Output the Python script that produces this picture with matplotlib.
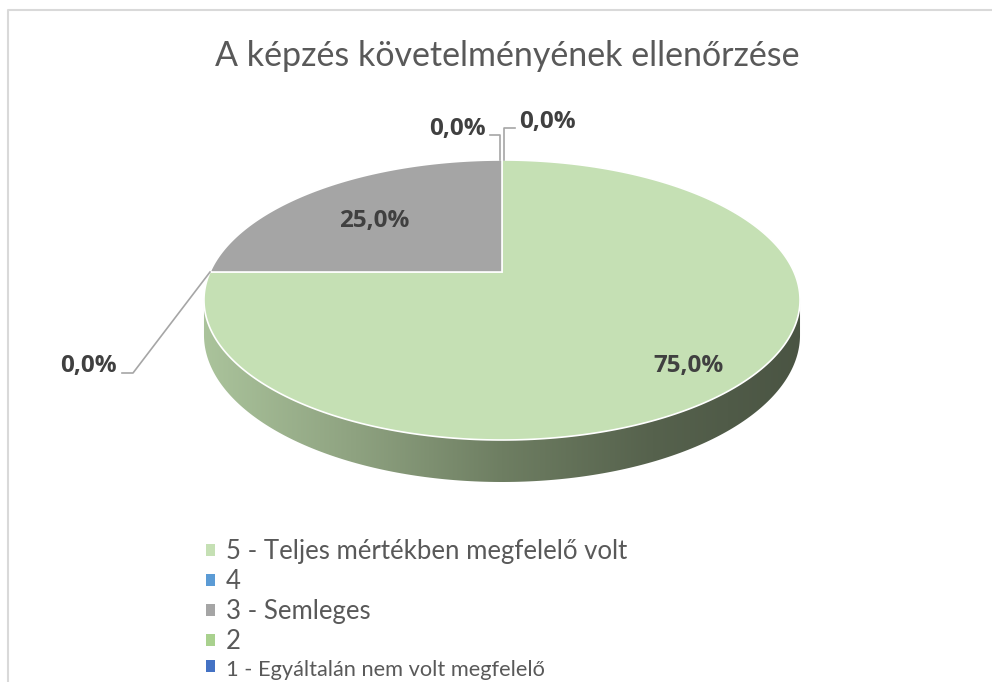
import numpy as np
import matplotlib.pyplot as plt
from matplotlib.patches import Polygon, Patch
from matplotlib.colors import LinearSegmentedColormap

plt.rcParams['font.family'] = ['Lato', 'DejaVu Sans']

title = "A képzés követelményének ellenőrzése"
categories = ["5 - Teljes mértékben megfelelő volt", "4", "3 - Semleges", "2",
              "1 - Egyáltalán nem volt megfelelő"]
shares = [75.0, 0.0, 25.0, 0.0, 0.0]
colors = ["#C5E0B4", "#5B9BD5", "#A5A5A5", "#A9D18E", "#4472C4"]

# tilted disc, in pixel space
cx, cy = 502, 272
rx, ry = 292, 134.4
persp = 0.2
depth = 33.6

# where the labels of the empty slices go (text x, baseline y, elbow x, end x)
zero_label_pos = {1: (117, 372, 133, 122, "right"),
                  3: (486, 135, 500, 490, "right"),
                  4: (519, 128, 504, 515, "left")}
label_font = dict(family=['Open Sans', 'DejaVu Sans'], fontsize=17.5,
                  fontweight="bold", color="#404040")


def proj(theta, z=0.0, r=1.0):
    u = r * np.cos(theta)
    v = -r * np.sin(theta)
    s = 1 / (1 - persp * v)
    return cx + rx * u * s, cy + ry * v * s + depth * s * z


fig = plt.figure(figsize=(9.92, 6.82), dpi=100)
ax = fig.add_axes([0, 0, 1, 1])
ax.set_xlim(0, 992)
ax.set_ylim(682, 0)
ax.axis("off")

# chart frame
ax.plot([8, 8, 992], [682, 10, 10], color="#D9D9D9", lw=1.5)

ax.text(cx + 5, 56, title, ha="center", va="center", fontsize=24.5, color="#595959")

total = sum(shares)
starts = []
a = np.pi / 2
for s in shares:
    a1 = a - 2 * np.pi * s / total
    starts.append((a, a1))
    a = a1

# side walls (front half only)
lo, hi = -np.pi + np.arcsin(persp), -np.arcsin(persp)
wall_cmap = LinearSegmentedColormap.from_list(
    "wall", ["#ABC49C", "#8FA381", "#6E7E62", "#56624D", "#4A5443"])
grad = np.linspace(0, 1, 256).reshape(1, -1)
for i, (a0, a1) in enumerate(starts):
    t0, t1 = max(a1, lo), min(a0, hi)
    if shares[i] == 0 or t0 >= t1:
        continue
    th = np.linspace(t0, t1, 200)
    xt, yt = proj(th, 0)
    xb, yb = proj(th[::-1], 1)
    poly = Polygon(np.column_stack([np.r_[xt, xb], np.r_[yt, yb]]),
                   closed=True, facecolor="none", edgecolor="none")
    ax.add_patch(poly)
    im = ax.imshow(grad, cmap=wall_cmap, aspect="auto",
                   extent=(cx - rx - 10, cx + rx + 10, 500, 250), zorder=1)
    im.set_clip_path(poly)

# top faces
for i, (a0, a1) in enumerate(starts):
    if shares[i] == 0:
        continue
    th = np.linspace(a0, a1, 300)
    xs, ys = proj(th)
    pts = np.column_stack([np.r_[cx, xs], np.r_[cy, ys]])
    ax.add_patch(Polygon(pts, closed=True, facecolor=colors[i],
                         edgecolor="white", lw=1.2, zorder=2))

# data labels
for i, (a0, a1) in enumerate(starts):
    txt = f"{shares[i]:.1f}%".replace(".", ",")
    if shares[i] > 0:
        mid = (a0 + a1) / 2
        r = 0.8 if shares[i] > 50 else 0.68
        lx, ly = proj(mid, r=r)
        ax.text(lx, ly + 8, txt, ha="center", va="center", zorder=4, **label_font)
    else:
        ax_, ay_ = proj(a0)
        tx, ty, ex, endx, ha = zero_label_pos[i]
        if i == 1:
            xs = [ax_, ex, endx]
            ys = [ay_, ty + 1, ty + 1]
        else:
            xs = [ex, ex, endx]
            ys = [ay_, ty, ty]
        ax.plot(xs, ys, color="#A6A6A6", lw=1.2, zorder=3)
        ax.text(tx, ty, txt, ha=ha, va="baseline", **label_font)

handles = [Patch(facecolor=c, edgecolor="none") for c in colors]
leg = ax.legend(handles, categories, loc="upper left",
                bbox_to_anchor=(206 / 992, 1 - 539 / 682),
                frameon=False, fontsize=18.5, handlelength=0.36, handleheight=0.36,
                handletextpad=0.42, labelspacing=0.2, labelcolor="#595959",
                borderaxespad=0, borderpad=0)
leg.get_texts()[4].set_fontsize(15.7)

fig.savefig("out.png", dpi=100)
